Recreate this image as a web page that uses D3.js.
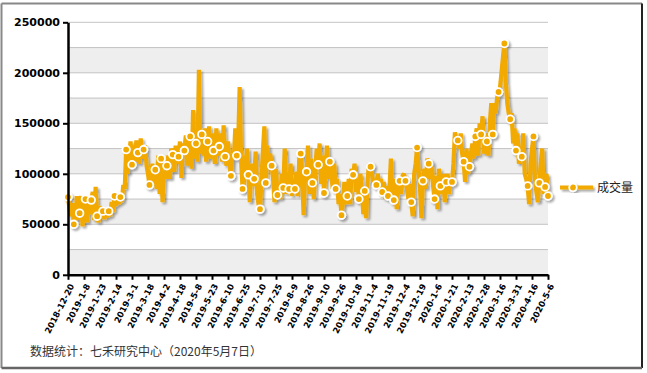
<!DOCTYPE html>
<meta charset="utf-8">
<html>
<style>
body { margin: 0; background: #fff; }
.axis path, .axis line { stroke: #000; }
.axis text { font-family: "DejaVu Sans", sans-serif; font-weight: bold; fill: #000; }
</style>
<svg width="647" height="373"></svg>
<script src="https://d3js.org/d3.v7.min.js"></script>
<script>
// x axis labels, one every 11 trading days
var tickLabels = ["2018-12-20","2019-1-8","2019-1-23","2019-2-14","2019-3-1","2019-3-18","2019-4-2",
  "2019-4-18","2019-5-8","2019-5-23","2019-6-10","2019-6-25","2019-7-10","2019-7-25","2019-8-9",
  "2019-8-26","2019-9-10","2019-9-26","2019-10-18","2019-11-4","2019-11-19","2019-12-4","2019-12-19",
  "2020-1-6","2020-1-21","2020-2-13","2020-2-28","2020-3-16","2020-3-31","2020-4-16","2020-5-6"];
var labelStep = 11;

// daily volume, in thousands
var volume = [
  77,66,58,71, 50,47,78,55, 61,78,48,72, 75,52,77,60, 74,82,54,87, 58,52,68,56, 63,55,66,57,
  63,58,72,62, 78,68,80,70, 77,72,89,85, 124,100,118,132, 109,128,112,133, 121,110,135,115,
  124,128,108,100, 89,95,110,90, 104,85,118,80, 115,72,102,95, 108,118,95,125, 119,102,128,110,
  117,132,96,130, 123,138,108,128, 137,105,163,115, 130,112,203,120, 139,118,145,112,
  132,147,115,140, 123,110,145,118, 127,140,112,148, 117,108,132,110, 98,120,115,145,
  118,130,186,115, 85,118,100,125, 99,72,110,88, 95,122,80,70, 65,95,122,147, 91,128,108,120,
  108,95,72,105, 79,90,75,100, 86,125,80,98, 85,110,78,95, 85,102,78,115, 120,95,59,100,
  102,128,80,115, 91,75,105,125, 109,130,90,118, 81,100,128,95, 112,100,85,110, 85,95,70,80,
  59,72,92,70, 78,95,70,105, 99,110,82,95, 75,100,85,60, 83,56,95,110, 107,100,88,95,
  89,100,85,95, 82,92,75,88, 78,85,115,72, 74,95,65,88, 93,80,98,100, 93,85,75,90,
  72,58,100,110, 126,105,85,56, 93,105,85,115, 110,95,112,88, 75,98,65,105, 88,80,100,72,
  92,100,80,95, 92,110,141,135, 133,125,140,120, 112,92,125,100, 107,120,130,115,
  137,145,118,150, 139,157,120,140, 132,118,150,170, 139,170,160,175, 181,185,200,215,
  229,190,170,160, 154,160,130,145, 123,140,110,120, 117,140,100,95, 88,70,110,125,
  137,95,82,72, 91,110,125,80, 87,100, 78];

var yTicks = [0, 50, 100, 150, 200, 250];
var seriesName = "成交量";
var footNote = "数据统计：七禾研究中心（2020年5月7日）";

var svg = d3.select("svg"),
    plotLeft = 68, plotRight = 548, plotTop = 22.3, plotBottom = 274.8,
    lineColor = "#F2A900";

var x = d3.scaleLinear().domain([0, volume.length - 1]).range([plotLeft, plotRight]);
var y = d3.scaleLinear().domain([0, 250]).range([plotBottom, plotTop]);

var defs = svg.append("defs");
defs.append("filter").attr("id", "shadow")
    .attr("x", "-10%").attr("y", "-10%").attr("width", "130%").attr("height", "130%")
  .append("feDropShadow")
    .attr("dx", 2).attr("dy", 2).attr("stdDeviation", 1.2)
    .attr("flood-color", "#000").attr("flood-opacity", 0.35);

// outer frame
var frame = svg.append("g");
frame.append("line").attr("x1", 1.5).attr("y1", 3.5).attr("x2", 642).attr("y2", 3.5).attr("stroke", "#888").attr("stroke-width", 2);
frame.append("line").attr("x1", 1.5).attr("y1", 3.5).attr("x2", 1.5).attr("y2", 368).attr("stroke", "#888").attr("stroke-width", 2);
frame.append("line").attr("x1", 642).attr("y1", 3.5).attr("x2", 642).attr("y2", 368).attr("stroke", "#222").attr("stroke-width", 2);
frame.append("line").attr("x1", 1.5).attr("y1", 368).attr("x2", 642).attr("y2", 368).attr("stroke", "#666").attr("stroke-width", 2.5);

// alternating bands + grid
var bands = d3.range(0, 250, 50);
svg.append("g").selectAll("rect")
    .data(bands)
    .enter().append("rect")
      .attr("x", plotLeft).attr("width", plotRight - plotLeft)
      .attr("y", function(d) { return y(d + 25); })
      .attr("height", function(d) { return y(d) - y(d + 25); })
      .attr("fill", "#eeeeee");
svg.append("g").selectAll("line")
    .data(d3.range(25, 251, 25))
    .enter().append("line")
      .attr("x1", plotLeft).attr("x2", plotRight)
      .attr("y1", function(d) { return y(d); }).attr("y2", function(d) { return y(d); })
      .attr("stroke", "#c4c4c4").attr("stroke-width", 1);

// series
var line = d3.line()
    .x(function(d, i) { return x(i); })
    .y(function(d) { return y(d); });

var series = svg.append("g").attr("filter", "url(#shadow)");
series.append("path")
    .datum(volume)
    .attr("d", line)
    .attr("fill", "none")
    .attr("stroke", lineColor)
    .attr("stroke-width", 4.2)
    .attr("stroke-linejoin", "bevel");

var markIdx = d3.range(volume.length).filter(function(i) { return i % 4 == 0 || i == volume.length - 1; });
series.selectAll("circle")
    .data(markIdx)
    .enter().append("circle")
      .attr("cx", function(i) { return x(i); })
      .attr("cy", function(i) { return y(volume[i]); })
      .attr("r", 3.8)
      .attr("fill", lineColor)
      .attr("stroke", "#fff")
      .attr("stroke-width", 1.8);

// axes
var yAxis = svg.append("g").attr("class", "axis")
    .attr("transform", "translate(" + plotLeft + ",0)")
    .call(d3.axisLeft(y).tickValues(yTicks).tickSize(5).tickSizeOuter(0)
      .tickFormat(function(d) { return d * 1000; }));
yAxis.select(".domain").attr("stroke-width", 2.5);
yAxis.selectAll(".tick line").attr("stroke-width", 2);
yAxis.selectAll("text").style("font-size", "11px");

var xAxis = svg.append("g").attr("class", "axis")
    .attr("transform", "translate(0," + plotBottom + ")")
    .call(d3.axisBottom(x)
      .tickValues(tickLabels.map(function(d, i) { return i * labelStep; }))
      .tickSize(5).tickSizeOuter(0)
      .tickFormat(function(d) { return tickLabels[d / labelStep]; }));
xAxis.select(".domain").attr("stroke-width", 2.5);
xAxis.selectAll(".tick line").attr("stroke-width", 2);
xAxis.selectAll("text")
    .style("font-size", "8.5px")
    .attr("x", 0).attr("y", 0).attr("dy", 0)
    .attr("text-anchor", "end")
    .attr("transform", "translate(6,11) rotate(-63)");

// legend
var legend = svg.append("g").attr("transform", "translate(560,187.5)");
var lg = legend.append("g").attr("filter", "url(#shadow)");
lg.append("line").attr("x1", 0).attr("x2", 33).attr("stroke", lineColor).attr("stroke-width", 4.2);
lg.append("circle").attr("cx", 13).attr("r", 3.8).attr("fill", lineColor).attr("stroke", "#fff").attr("stroke-width", 1.8);
legend.append("text")
    .attr("x", 37).attr("dy", "0.35em")
    .style("font-family", "'Noto Sans CJK SC', sans-serif").style("font-size", "12px").style("fill", "#222")
    .text(seriesName);

// footnote
svg.append("text")
    .attr("x", 30).attr("y", 352).attr("dy", "0.35em")
    .style("font-family", "'Noto Sans CJK SC', sans-serif").style("font-size", "12px").style("fill", "#333")
    .text(footNote);
</script>
</html>
